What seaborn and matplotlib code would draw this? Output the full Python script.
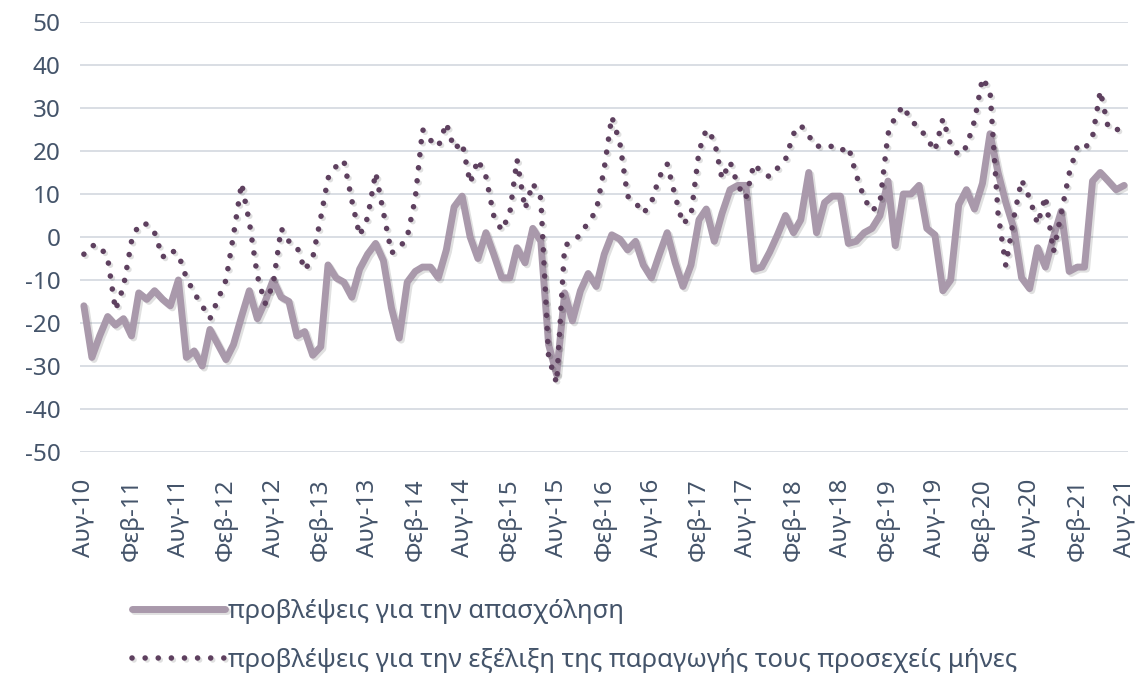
import pandas as pd
import numpy as np
import matplotlib
matplotlib.use("Agg")
import matplotlib.pyplot as plt
import matplotlib.patheffects as pe
import seaborn as sns

# monthly survey balances, Aug 2010 - Aug 2021
months = pd.date_range("2010-08-01", "2021-08-01", freq="MS")

employment = [
    -16, -28, -23, -18.5, -20.5, -19, -23, -13, -14.5, -12.5, -14.5, -16,
    -10, -28, -26.5, -30, -21.5, -25, -28.5, -25, -18.5, -12.5, -19, -15,
    -10, -14, -15, -23, -22, -27.5, -25.5, -6.5, -9.5, -10.5, -14, -7.5,
    -4, -1.5, -5.5, -16.5, -23.5, -10.5, -8, -7, -7, -9.5, -3, 7,
    9.5, 0, -5, 1, -4, -9.5, -9.5, -2.5, -6, 2, -1, -25, -32, -13,
    -19.5, -12.5, -8.5, -11.5, -4, 0.5, -0.5, -3, -1, -6.5, -9.5, -4,
    1, -6, -11.5, -6.5, 4, 6.5, -1, 5.5, 11, 12, 12, -7.5, -7, -3.5,
    0.5, 5, 1, 4, 15, 1, 8, 9.5, 9.5, -1.5, -1, 1, 2, 5, 13, -2,
    10, 10, 12, 2, 0.5, -12.5, -10, 7.5, 11, 6.5, 12.5, 24, 15, 8,
    2, -9.5, -12, -2.5, -7, 0, 6, -8, -7, -7, 13, 15, 13, 11, 12,
]

production = [
    -4, -2, -2, -5, -17, -11.5, -1, 3, 3, 1, -4.7, -3,
    -4, -9.5, -13, -16, -19, -14.5, -10, 0.5, 12.5, 3.5, -9, -15.5,
    -11, 2, -1, -2.2, -7.7, -4.8, 4.5, 13.7, 16.4, 17.8, 8.5, 0.3,
    4.5, 15, 5.7, -3.7, -2.6, 0, 9, 25, 22.5, 21, 26.5, 20.5,
    22, 12.5, 18, 14, 5, 1.5, 5.5, 18, 6.5, 12.5, 9, -28, -34, -2,
    -1, 0.5, 3.5, 6, 16, 28, 22, 9.5, 8, 5.5, 8, 14,
    17, 9.5, 3, 5, 20, 25, 22.5, 13.5, 17.5, 12, 9, 17, 15, 14,
    16, 18, 24, 26, 23.5, 21, 21.5, 21, 20, 21, 14.5, 9, 6, 8, 24, 28,
    30.5, 27, 25.5, 23, 20, 27.5, 21.5, 19, 21, 27, 37, 34, 5.5, -6.7,
    4.5, 13.3, 9, 3, 9.5, -3.5, 5.5, 14.8, 21, 20.4, 23.3, 34, 25.3, 25, 25,
]

tick_labels = [
    "Αυγ-10", "Φεβ-11", "Αυγ-11", "Φεβ-12", "Αυγ-12", "Φεβ-13", "Αυγ-13",
    "Φεβ-14", "Αυγ-14", "Φεβ-15", "Αυγ-15", "Φεβ-16", "Αυγ-16", "Φεβ-17",
    "Αυγ-17", "Φεβ-18", "Αυγ-18", "Φεβ-19", "Αυγ-19", "Φεβ-20", "Αυγ-20",
    "Φεβ-21", "Αυγ-21",
]
y_ticks = [-50, -40, -30, -20, -10, 0, 10, 20, 30, 40, 50]

label_emp = "προβλέψεις για την απασχόληση"
label_prod = "προβλέψεις για την εξέλιξη της παραγωγής τους προσεχείς μήνες"

df = pd.DataFrame({"month": months, "employment": employment, "production": production})

sns.set_style("white")
plt.rcParams["font.family"] = ["Noto Sans", "DejaVu Sans"]
text_color = "#44546A"

fig = plt.figure(figsize=(11.35, 6.75), dpi=100)
ax = fig.add_axes([80 / 1135, 1 - 452 / 675, 1048 / 1135, 430 / 675])

shadow = [pe.SimpleLineShadow(offset=(1.5, -1.5), alpha=0.12), pe.Normal()]
sns.lineplot(data=df, x="month", y="employment", ax=ax, color="#A999AB",
             linewidth=5.0, label=label_emp, path_effects=shadow)
sns.lineplot(data=df, x="month", y="production", ax=ax, color="#5E405F",
             linewidth=4.0, linestyle=(0, (0.01, 2.35)), dash_capstyle="round",
             label=label_prod, path_effects=shadow)

ax.set_ylim(-50, 50)
ax.set_xlim(months[0] - pd.Timedelta(days=15), months[-1] + pd.Timedelta(days=15))
ax.set_yticks(y_ticks)
ax.set_yticklabels([str(v) for v in y_ticks])
ax.set_xticks(months[::6])
ax.set_xticklabels(tick_labels, rotation=90)
ax.tick_params(axis="both", length=0, labelsize=17.5, labelcolor=text_color)
ax.tick_params(axis="y", pad=14)
ax.tick_params(axis="x", pad=19)
ax.yaxis.grid(True, color="#D9DEE4", linewidth=1.4)
ax.xaxis.grid(False)
for s in ax.spines.values():
    s.set_visible(False)
ax.set_xlabel("")
ax.set_ylabel("")

ax.get_legend().remove()
handles, labels = ax.get_legend_handles_labels()
leg = fig.legend(handles, labels, loc="center left",
                 bbox_to_anchor=(132 / 1135, 1 - 636 / 675),
                 frameon=False, fontsize=18.5, handlelength=3.6,
                 handletextpad=0.15, labelspacing=0.95, borderpad=0,
                 borderaxespad=0)
for t in leg.get_texts():
    t.set_color(text_color)

fig.savefig("out.png", dpi=100)
